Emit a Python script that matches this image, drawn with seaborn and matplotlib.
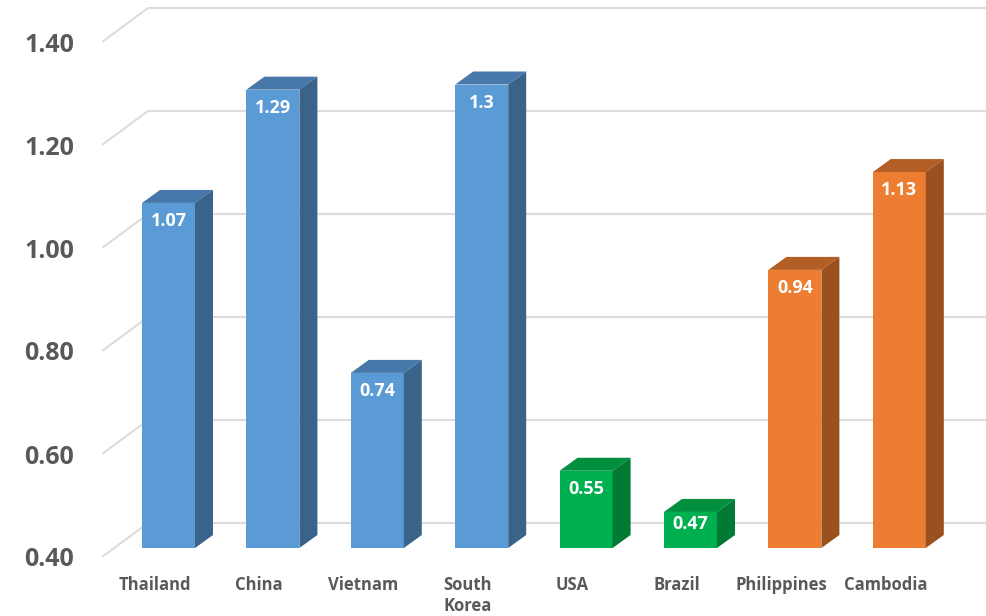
import matplotlib
matplotlib.use("Agg")
import matplotlib.pyplot as plt
from matplotlib.patches import Polygon
import seaborn as sns
import pandas as pd

# ---- data ----
countries = ["Thailand", "China", "Vietnam", "South\nKorea", "USA", "Brazil", "Philippines", "Cambodia"]
values = [1.07, 1.29, 0.74, 1.30, 0.55, 0.47, 0.94, 1.13]
value_labels = ["1.07", "1.29", "0.74", "1.3", "0.55", "0.47", "0.94", "1.13"]
y_ticks = [0.40, 0.60, 0.80, 1.00, 1.20, 1.40]
y_tick_labels = ["0.40", "0.60", "0.80", "1.00", "1.20", "1.40"]

front_colors = ["#5B9BD5"] * 4 + ["#00B050"] * 2 + ["#ED7D31"] * 2
side_colors = ["#3A6389"] * 4 + ["#007A35"] * 2 + ["#9A501F"] * 2
top_colors = ["#4679A9"] * 4 + ["#008F3F"] * 2 + ["#B35E24"] * 2

df = pd.DataFrame({"country": countries, "value": values})

sns.set_theme(style="white")
plt.rcParams["font.family"] = ["Open Sans", "DejaVu Sans"]

W, H = 986, 616
fig = plt.figure(figsize=(W / 100, H / 100), dpi=100)
ax = fig.add_axes([102 / W, (H - 560) / H, (W - 102) / W, 560 / H])

BASE = 0.40
bar_w = 53 / 104.4
dx = 18 / 104.4
dy = 13 / 515

sns.barplot(data=df, x="country", y="value", hue="country", palette=front_colors,
            width=bar_w, legend=False, ax=ax, saturation=1, zorder=3, linewidth=0)

# make bars start at the floor value
for p in ax.patches:
    h = p.get_height()
    p.set_y(BASE)
    p.set_height(h - BASE)

# gridlines: back wall + left diagonal
for t in y_ticks:
    yb = t + 25 / 515
    yf = t - 9 / 515
    xl = (102 - 168.5) / 104.4
    xb = (148 - 168.5) / 104.4
    ax.plot([xl, xb], [yf, yb], color="#DCDCDC", lw=1.5, zorder=1, solid_capstyle="butt")
    ax.plot([xb, 9], [yb, yb], color="#DCDCDC", lw=1.5, zorder=1, solid_capstyle="butt")

# 3D faces and labels
for i, (v, lab) in enumerate(zip(values, value_labels)):
    x0, x1 = i - bar_w / 2, i + bar_w / 2
    top = Polygon([(x0, v), (x1, v), (x1 + dx, v + dy), (x0 + dx, v + dy)],
                  closed=True, facecolor=top_colors[i], edgecolor="none", zorder=3)
    side = Polygon([(x1, BASE), (x1 + dx, BASE + dy), (x1 + dx, v + dy), (x1, v)],
                   closed=True, facecolor=side_colors[i], edgecolor="none", zorder=3)
    ax.add_patch(top)
    ax.add_patch(side)
    hpx = (v - BASE) * 515
    off = min(18, hpx / 3) / 515
    ax.text(i, v - off, lab, ha="center", va="center", color="white",
            fontsize=13, fontweight="bold", zorder=4)

ax.set_xlim((102 - 168.5) / 104.4, (986 - 168.5) / 104.4)
ax.set_ylim(BASE - 12 / 515, BASE + 548 / 515)

ax.set_yticks([t - 9 / 515 for t in y_ticks])
ax.set_yticklabels(y_tick_labels, fontsize=18, fontweight="bold", color="#595959")
ax.set_xticks([i - 14 / 104.4 for i in range(len(countries))])
ax.set_xticklabels(countries, fontsize=12, fontweight="bold", color="#595959")
ax.tick_params(axis="y", length=0, pad=20)
ax.tick_params(axis="x", length=0, pad=11.5)
ax.set_xlabel("")
ax.set_ylabel("")
for s in ax.spines.values():
    s.set_visible(False)

fig.savefig("out.png", dpi=100, facecolor="white")
